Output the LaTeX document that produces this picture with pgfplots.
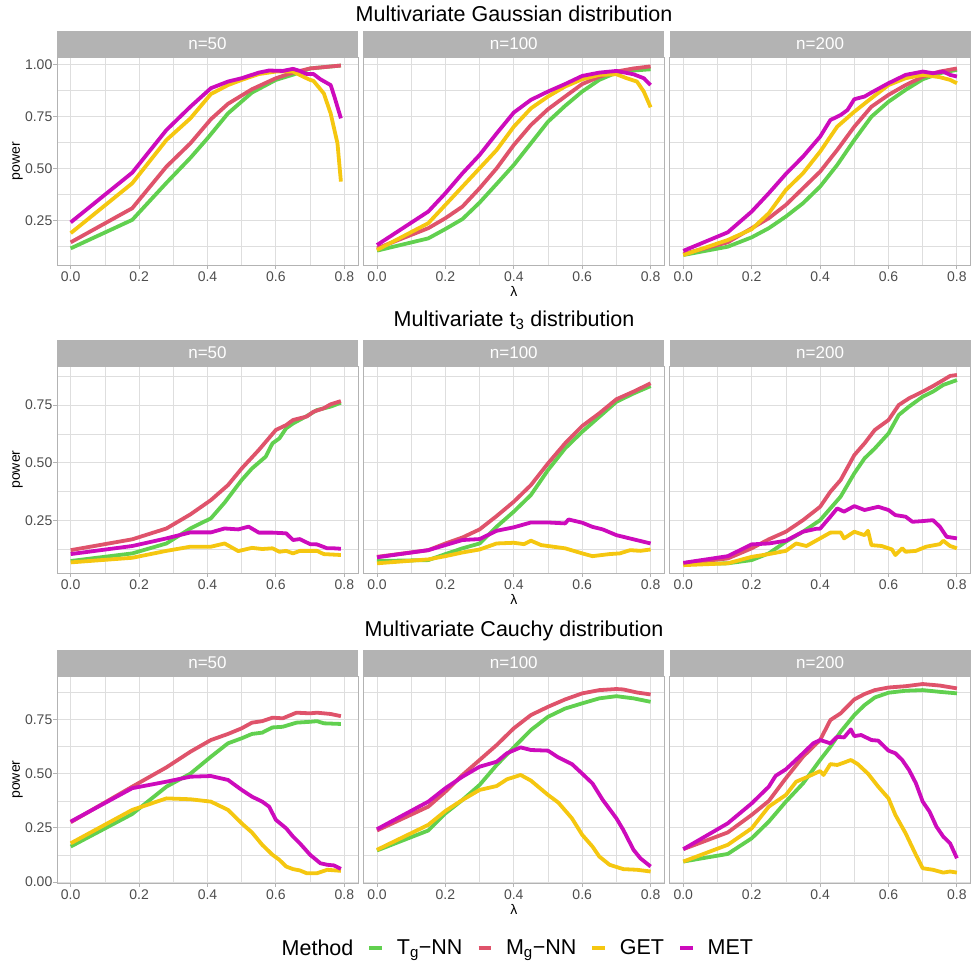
\documentclass[border=0pt]{standalone}
\usepackage{fontspec}
\setmainfont{Liberation Sans}
\usepackage{pgfplots}
\pgfplotsset{compat=1.18}

\definecolor{cT}{HTML}{61D04F}
\definecolor{cM}{HTML}{DF536B}
\definecolor{cG}{HTML}{F5C710}
\definecolor{cE}{HTML}{CD0BBC}
\definecolor{strip}{HTML}{B3B3B3}
\definecolor{grid87}{HTML}{DEDEDE}
\definecolor{txt30}{HTML}{4D4D4D}

\pgfplotsset{
  panel/.style={
    scale only axis, width=301pt,
    xmin=-0.04, xmax=0.84,
    xtick={0,0.2,0.4,0.6,0.8}, minor xtick={0.1,0.3,0.5,0.7},
    grid=both,
    major grid style={draw=grid87, line width=0.9pt},
    minor grid style={draw=grid87, line width=0.5pt},
    axis line style={draw=strip, line width=0.9pt},
    tick align=outside, xtick pos=bottom, ytick pos=left,
    major tick length=3.5pt, minor tick length=0pt,
    every tick/.style={draw=strip, line width=0.9pt},
    tick label style={font=\fontsize{14}{16}\selectfont, text=txt30},
    /pgf/number format/assume math mode=true,
    xticklabel style={/pgf/number format/.cd, fixed, fixed zerofill, precision=1, /tikz/.cd},
    yticklabel style={/pgf/number format/.cd, fixed, fixed zerofill, precision=2, /tikz/.cd, inner xsep=1pt},
    every axis title/.style={at={(0.5,1)}, anchor=south, fill=strip, text=white,
      minimum width=301pt, minimum height=26pt, inner sep=0pt,
      font=\fontsize{17}{19}\selectfont},
    every axis y label/.style={at={(axis description cs:-0.131,0.5)}, rotate=90,
      anchor=center, font=\fontsize{14}{16}\selectfont},
    every axis x label/.style={at={(axis description cs:0.5,-0.128)},
      anchor=center, font=\fontsize{14}{16}\selectfont},
    every axis plot/.append style={line width=3.8pt, line join=round, no markers},
    legend image code/.code={\draw[#1, line width=4pt] (0pt,0pt) -- (12.5pt,0pt);},
  },
  inner/.style={yticklabels={}, ytick style={draw=none}},
  rowA/.style={height=208pt, ymin=0.035, ymax=1.035, ytick={0.25,0.5,0.75,1},
    minor ytick={0.125,0.375,0.625,0.875}},
  rowB/.style={height=207pt, ymin=0.022, ymax=0.919, ytick={0.25,0.5,0.75},
    minor ytick={0.125,0.375,0.625,0.875}},
  rowC/.style={height=207pt, ymin=-0.004, ymax=0.95, ytick={0,0.25,0.5,0.75},
    minor ytick={0.125,0.375,0.625,0.875}},
}

\begin{document}
\begin{tikzpicture}
\useasboundingbox (0,0) rectangle (971pt,-966pt);

\node[anchor=base, font=\fontsize{21.5}{24}\selectfont] at (514pt,-21.5pt) {Multivariate Gaussian distribution};
\node[anchor=base, font=\fontsize{21.5}{24}\selectfont] at (514pt,-326pt) {Multivariate t\textsubscript{3} distribution};
\node[anchor=base, font=\fontsize{21.5}{24}\selectfont] at (514pt,-636pt) {Multivariate Cauchy distribution};

% ---------- Gaussian ----------
\begin{axis}[panel, rowA, at={(57pt,-57pt)}, anchor=north west, title={n=50}, ylabel={power}]
\addplot[cT] coordinates {(0,0.115)(0.18,0.252)(0.28,0.43)(0.35,0.55)(0.40,0.644)(0.46,0.764)(0.53,0.864)(0.60,0.925)(0.65,0.95)(0.70,0.98)(0.79,0.994)};
\addplot[cM] coordinates {(0,0.144)(0.18,0.308)(0.28,0.508)(0.35,0.62)(0.41,0.736)(0.46,0.81)(0.53,0.88)(0.60,0.933)(0.65,0.96)(0.70,0.98)(0.79,0.994)};
\addplot[cG] coordinates {(0,0.188)(0.18,0.428)(0.28,0.636)(0.35,0.74)(0.41,0.857)(0.46,0.90)(0.50,0.925)(0.55,0.953)(0.60,0.965)(0.65,0.965)(0.68,0.94)(0.70,0.925)(0.71,0.92)(0.74,0.86)(0.76,0.764)(0.78,0.62)(0.79,0.436)};
\addplot[cE] coordinates {(0,0.24)(0.18,0.479)(0.28,0.684)(0.35,0.796)(0.41,0.885)(0.46,0.917)(0.50,0.933)(0.55,0.96)(0.58,0.97)(0.62,0.968)(0.65,0.978)(0.67,0.968)(0.69,0.953)(0.71,0.953)(0.73,0.928)(0.76,0.90)(0.77,0.85)(0.79,0.74)};
\end{axis}

\begin{axis}[panel, rowA, inner, at={(363.3pt,-57pt)}, anchor=north west, title={n=100}, xlabel={λ}]
\addplot[cT] coordinates {(0,0.104)(0.15,0.163)(0.2,0.208)(0.25,0.256)(0.3,0.335)(0.35,0.425)(0.4,0.516)(0.45,0.62)(0.5,0.724)(0.55,0.80)(0.6,0.869)(0.65,0.925)(0.7,0.96)(0.75,0.97)(0.8,0.976)};
\addplot[cM] coordinates {(0,0.115)(0.15,0.212)(0.2,0.26)(0.25,0.316)(0.3,0.404)(0.35,0.50)(0.4,0.612)(0.45,0.708)(0.5,0.784)(0.55,0.845)(0.6,0.905)(0.65,0.94)(0.7,0.965)(0.75,0.98)(0.8,0.99)};
\addplot[cG] coordinates {(0,0.107)(0.15,0.236)(0.2,0.324)(0.25,0.412)(0.3,0.50)(0.35,0.588)(0.4,0.70)(0.45,0.788)(0.5,0.845)(0.55,0.893)(0.6,0.928)(0.65,0.949)(0.7,0.952)(0.73,0.933)(0.76,0.917)(0.78,0.869)(0.8,0.793)};
\addplot[cE] coordinates {(0,0.131)(0.15,0.292)(0.2,0.38)(0.25,0.476)(0.3,0.564)(0.35,0.668)(0.4,0.768)(0.45,0.829)(0.5,0.869)(0.55,0.905)(0.6,0.944)(0.65,0.96)(0.7,0.968)(0.75,0.952)(0.78,0.933)(0.8,0.90)};
\end{axis}

\begin{axis}[panel, rowA, inner, at={(669.6pt,-57pt)}, anchor=north west, title={n=200}]
\addplot[cT] coordinates {(0,0.083)(0.13,0.123)(0.2,0.168)(0.25,0.212)(0.3,0.268)(0.35,0.332)(0.4,0.412)(0.45,0.516)(0.5,0.636)(0.55,0.748)(0.6,0.82)(0.65,0.877)(0.7,0.928)(0.75,0.957)(0.8,0.973)};
\addplot[cM] coordinates {(0,0.088)(0.13,0.144)(0.2,0.212)(0.25,0.26)(0.3,0.324)(0.35,0.404)(0.4,0.484)(0.45,0.588)(0.5,0.70)(0.55,0.796)(0.6,0.853)(0.65,0.90)(0.7,0.94)(0.75,0.965)(0.8,0.98)};
\addplot[cG] coordinates {(0,0.083)(0.13,0.155)(0.2,0.207)(0.25,0.284)(0.3,0.396)(0.35,0.476)(0.4,0.58)(0.45,0.70)(0.5,0.772)(0.55,0.837)(0.6,0.90)(0.65,0.933)(0.7,0.949)(0.75,0.938)(0.78,0.925)(0.8,0.909)};
\addplot[cE] coordinates {(0,0.103)(0.13,0.192)(0.2,0.292)(0.25,0.38)(0.3,0.473)(0.35,0.556)(0.4,0.652)(0.43,0.732)(0.46,0.756)(0.48,0.78)(0.5,0.832)(0.53,0.845)(0.55,0.864)(0.6,0.909)(0.65,0.949)(0.7,0.965)(0.73,0.957)(0.76,0.965)(0.78,0.949)(0.8,0.941)};
\end{axis}

% ---------- t3 ----------
\begin{axis}[panel, rowB, at={(57pt,-366pt)}, anchor=north west, title={n=50}, ylabel={power}]
\addplot[cT] coordinates {(0,0.074)(0.18,0.107)(0.28,0.15)(0.35,0.215)(0.41,0.259)(0.45,0.327)(0.5,0.425)(0.53,0.475)(0.57,0.526)(0.59,0.584)(0.61,0.605)(0.63,0.649)(0.65,0.67)(0.69,0.702)(0.72,0.728)(0.76,0.743)(0.79,0.76)};
\addplot[cM] coordinates {(0,0.121)(0.18,0.168)(0.28,0.215)(0.35,0.276)(0.41,0.338)(0.46,0.403)(0.5,0.475)(0.55,0.555)(0.6,0.642)(0.63,0.663)(0.65,0.685)(0.69,0.70)(0.71,0.721)(0.74,0.736)(0.76,0.753)(0.79,0.767)};
\addplot[cG] coordinates {(0,0.068)(0.18,0.088)(0.28,0.118)(0.35,0.136)(0.41,0.136)(0.45,0.15)(0.49,0.117)(0.53,0.131)(0.56,0.126)(0.59,0.129)(0.61,0.114)(0.63,0.118)(0.65,0.107)(0.67,0.118)(0.72,0.118)(0.74,0.104)(0.79,0.10)};
\addplot[cE] coordinates {(0,0.104)(0.18,0.139)(0.28,0.172)(0.35,0.198)(0.41,0.198)(0.45,0.215)(0.49,0.211)(0.52,0.223)(0.55,0.197)(0.59,0.197)(0.63,0.194)(0.65,0.165)(0.67,0.169)(0.7,0.147)(0.72,0.146)(0.75,0.129)(0.77,0.129)(0.79,0.127)};
\end{axis}

\begin{axis}[panel, rowB, inner, at={(363.3pt,-366pt)}, anchor=north west, title={n=100}, xlabel={λ}]
\addplot[cT] coordinates {(0,0.074)(0.15,0.078)(0.2,0.104)(0.25,0.129)(0.3,0.15)(0.35,0.223)(0.4,0.288)(0.45,0.36)(0.5,0.468)(0.55,0.562)(0.6,0.634)(0.65,0.699)(0.7,0.764)(0.75,0.80)(0.8,0.832)};
\addplot[cM] coordinates {(0,0.092)(0.15,0.121)(0.2,0.15)(0.25,0.176)(0.3,0.211)(0.35,0.269)(0.4,0.331)(0.45,0.403)(0.5,0.497)(0.55,0.584)(0.6,0.659)(0.65,0.714)(0.7,0.775)(0.75,0.808)(0.8,0.844)};
\addplot[cG] coordinates {(0,0.064)(0.15,0.081)(0.2,0.095)(0.25,0.111)(0.3,0.124)(0.35,0.15)(0.4,0.153)(0.43,0.147)(0.45,0.162)(0.48,0.143)(0.5,0.139)(0.55,0.129)(0.6,0.107)(0.63,0.095)(0.68,0.104)(0.71,0.107)(0.74,0.121)(0.77,0.118)(0.8,0.124)};
\addplot[cE] coordinates {(0,0.09)(0.15,0.121)(0.2,0.143)(0.25,0.165)(0.3,0.169)(0.35,0.205)(0.4,0.22)(0.45,0.241)(0.5,0.241)(0.55,0.237)(0.56,0.254)(0.6,0.24)(0.63,0.222)(0.66,0.211)(0.7,0.186)(0.75,0.168)(0.8,0.15)};
\end{axis}

\begin{axis}[panel, rowB, inner, at={(669.6pt,-366pt)}, anchor=north west, title={n=200}]
\addplot[cT] coordinates {(0,0.061)(0.13,0.064)(0.2,0.078)(0.25,0.107)(0.3,0.158)(0.35,0.201)(0.4,0.251)(0.43,0.302)(0.46,0.353)(0.5,0.454)(0.53,0.519)(0.56,0.562)(0.6,0.627)(0.63,0.707)(0.66,0.743)(0.7,0.786)(0.73,0.808)(0.76,0.837)(0.8,0.858)};
\addplot[cM] coordinates {(0,0.064)(0.13,0.085)(0.2,0.129)(0.25,0.168)(0.3,0.201)(0.35,0.251)(0.4,0.309)(0.43,0.374)(0.46,0.425)(0.5,0.533)(0.53,0.584)(0.56,0.642)(0.6,0.685)(0.63,0.75)(0.66,0.779)(0.7,0.808)(0.73,0.832)(0.76,0.858)(0.78,0.876)(0.8,0.88)};
\addplot[cG] coordinates {(0,0.056)(0.13,0.064)(0.2,0.092)(0.25,0.104)(0.3,0.118)(0.33,0.15)(0.36,0.139)(0.4,0.172)(0.43,0.197)(0.46,0.198)(0.47,0.172)(0.5,0.201)(0.53,0.186)(0.54,0.205)(0.55,0.143)(0.58,0.139)(0.61,0.124)(0.62,0.10)(0.64,0.129)(0.65,0.114)(0.68,0.118)(0.71,0.136)(0.75,0.147)(0.76,0.162)(0.78,0.139)(0.8,0.129)};
\addplot[cE] coordinates {(0,0.066)(0.13,0.095)(0.2,0.146)(0.25,0.15)(0.3,0.162)(0.35,0.201)(0.39,0.214)(0.4,0.214)(0.43,0.266)(0.45,0.302)(0.47,0.288)(0.5,0.312)(0.53,0.295)(0.57,0.309)(0.6,0.295)(0.62,0.273)(0.65,0.266)(0.67,0.244)(0.7,0.247)(0.73,0.251)(0.75,0.223)(0.77,0.179)(0.8,0.172)};
\end{axis}

% ---------- Cauchy ----------
\begin{axis}[panel, rowC, at={(57pt,-676pt)}, anchor=north west, title={n=50}, ylabel={power}]
\addplot[cT] coordinates {(0,0.164)(0.18,0.314)(0.28,0.44)(0.35,0.50)(0.41,0.578)(0.46,0.64)(0.5,0.663)(0.53,0.683)(0.56,0.689)(0.59,0.713)(0.62,0.716)(0.66,0.735)(0.7,0.739)(0.72,0.742)(0.74,0.732)(0.79,0.729)};
\addplot[cM] coordinates {(0,0.276)(0.18,0.44)(0.28,0.529)(0.35,0.601)(0.41,0.655)(0.46,0.683)(0.5,0.709)(0.53,0.735)(0.56,0.742)(0.59,0.758)(0.62,0.755)(0.66,0.781)(0.7,0.778)(0.72,0.781)(0.76,0.775)(0.79,0.765)};
\addplot[cG] coordinates {(0,0.179)(0.18,0.333)(0.28,0.386)(0.35,0.382)(0.41,0.371)(0.46,0.333)(0.5,0.271)(0.53,0.229)(0.56,0.172)(0.59,0.126)(0.61,0.103)(0.63,0.072)(0.65,0.06)(0.67,0.054)(0.69,0.041)(0.72,0.041)(0.75,0.057)(0.79,0.052)};
\addplot[cE] coordinates {(0,0.279)(0.18,0.433)(0.28,0.463)(0.35,0.486)(0.41,0.489)(0.46,0.471)(0.5,0.425)(0.53,0.394)(0.56,0.371)(0.58,0.348)(0.6,0.287)(0.63,0.248)(0.65,0.21)(0.67,0.179)(0.7,0.126)(0.73,0.087)(0.75,0.08)(0.77,0.077)(0.79,0.061)};
\end{axis}

\begin{axis}[panel, rowC, inner, at={(363.3pt,-676pt)}, anchor=north west, title={n=100}, xlabel={λ},
  legend columns=5,
  legend style={at={(axis description cs:-0.3143,-0.314)}, anchor=west, draw=none, fill=none,
    inner sep=0pt, outer sep=0pt, nodes={inner sep=0pt},
    font=\fontsize{21.5}{24}\selectfont,
    /tikz/every odd column/.append style={column sep=13pt},
    /tikz/every even column/.append style={column sep=14pt}},
  legend cell align=left]
\addlegendimage{empty legend}
\addplot[cT] coordinates {(0,0.146)(0.15,0.238)(0.2,0.317)(0.25,0.379)(0.3,0.448)(0.35,0.54)(0.4,0.621)(0.45,0.701)(0.5,0.762)(0.55,0.80)(0.6,0.824)(0.65,0.847)(0.7,0.857)(0.75,0.847)(0.8,0.831)};
\addplot[cM] coordinates {(0,0.238)(0.15,0.348)(0.2,0.417)(0.25,0.494)(0.3,0.563)(0.35,0.632)(0.4,0.709)(0.45,0.77)(0.5,0.808)(0.55,0.842)(0.6,0.87)(0.65,0.885)(0.7,0.89)(0.72,0.888)(0.76,0.874)(0.8,0.865)};
\addplot[cG] coordinates {(0,0.149)(0.15,0.264)(0.2,0.328)(0.25,0.379)(0.3,0.425)(0.35,0.443)(0.38,0.474)(0.42,0.494)(0.45,0.468)(0.5,0.402)(0.53,0.367)(0.57,0.294)(0.6,0.218)(0.63,0.164)(0.65,0.118)(0.68,0.08)(0.72,0.06)(0.76,0.057)(0.8,0.049)};
\addplot[cE] coordinates {(0,0.244)(0.15,0.371)(0.2,0.433)(0.25,0.486)(0.3,0.532)(0.35,0.555)(0.38,0.594)(0.42,0.621)(0.45,0.609)(0.5,0.606)(0.53,0.575)(0.57,0.544)(0.6,0.50)(0.63,0.455)(0.66,0.379)(0.7,0.294)(0.72,0.241)(0.75,0.149)(0.77,0.11)(0.8,0.072)};
\legend{Method, T\textsubscript{g}−NN, M\textsubscript{g}−NN, GET, MET}
\end{axis}

\begin{axis}[panel, rowC, inner, at={(669.6pt,-676pt)}, anchor=north west, title={n=200}]
\addplot[cT] coordinates {(0,0.095)(0.13,0.13)(0.2,0.202)(0.25,0.279)(0.3,0.371)(0.35,0.455)(0.4,0.563)(0.43,0.624)(0.46,0.693)(0.5,0.77)(0.53,0.816)(0.56,0.851)(0.6,0.873)(0.65,0.882)(0.7,0.885)(0.75,0.877)(0.8,0.87)};
\addplot[cM] coordinates {(0,0.152)(0.13,0.229)(0.2,0.31)(0.25,0.374)(0.3,0.479)(0.35,0.578)(0.4,0.655)(0.43,0.747)(0.46,0.778)(0.5,0.842)(0.53,0.867)(0.56,0.885)(0.6,0.897)(0.65,0.903)(0.7,0.913)(0.75,0.906)(0.8,0.893)};
\addplot[cG] coordinates {(0,0.095)(0.13,0.172)(0.2,0.248)(0.25,0.348)(0.3,0.402)(0.33,0.463)(0.36,0.483)(0.4,0.512)(0.41,0.494)(0.43,0.544)(0.45,0.54)(0.47,0.551)(0.49,0.563)(0.51,0.544)(0.54,0.50)(0.57,0.44)(0.6,0.386)(0.62,0.31)(0.65,0.225)(0.68,0.126)(0.7,0.064)(0.73,0.057)(0.76,0.044)(0.78,0.049)(0.8,0.044)};
\addplot[cE] coordinates {(0,0.152)(0.13,0.271)(0.2,0.363)(0.25,0.44)(0.27,0.49)(0.3,0.52)(0.35,0.594)(0.38,0.64)(0.4,0.655)(0.43,0.64)(0.45,0.67)(0.47,0.667)(0.49,0.704)(0.5,0.673)(0.52,0.678)(0.55,0.655)(0.57,0.652)(0.6,0.606)(0.62,0.594)(0.64,0.563)(0.66,0.517)(0.68,0.456)(0.7,0.371)(0.72,0.325)(0.74,0.256)(0.76,0.21)(0.78,0.179)(0.8,0.11)};
\end{axis}
\end{tikzpicture}
\end{document}
